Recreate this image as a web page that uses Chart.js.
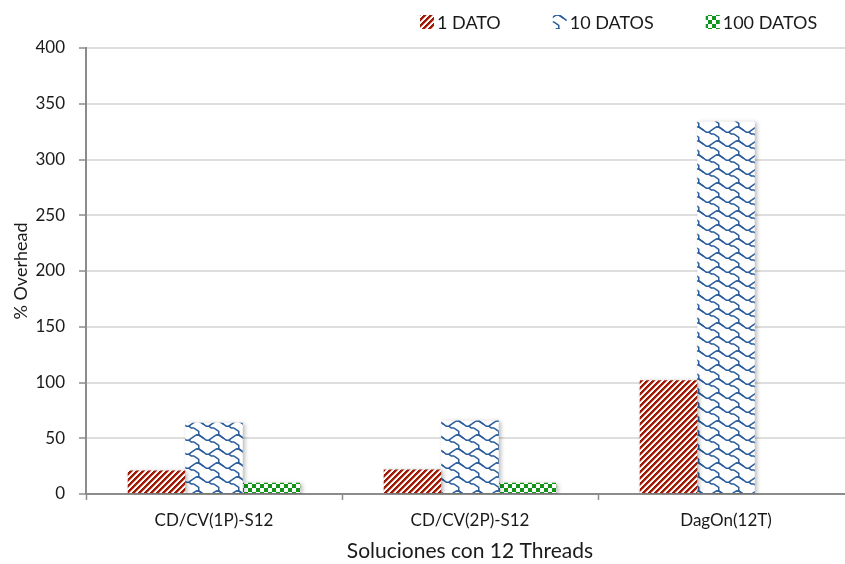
<!DOCTYPE html>
<html>
<head>
<meta charset="utf-8">
<script src="https://cdn.jsdelivr.net/npm/chart.js@4.4.1/dist/chart.umd.min.js"></script>
<style>
  html, body { margin: 0; padding: 0; background: #fff; overflow: hidden; }
  #wrap { position: relative; width: 860px; height: 564px; }
</style>
</head>
<body>
<div id="wrap"><canvas id="chart"></canvas></div>
<script>
// Overhead (%) per solution and data volume
const categories = ['CD/CV(1P)-S12', 'CD/CV(2P)-S12', 'DagOn(12T)'];
const seriesNames = ['1 DATO', '10 DATOS', '100 DATOS'];
const oneDato = [21, 22, 102];
const tenDatos = [64, 66, 334];
const hundredDatos = [10, 10, null];
const yTickValues = [0, 50, 100, 150, 200, 250, 300, 350, 400];

const FONT = 'Lato, "Open Sans", sans-serif';
const TEXT = '#1a1a1a';
const AXIS = '#8c8c8c';

// Hatch fills built as small repeating tiles
function tile(w, h, paint) {
  const c = document.createElement('canvas');
  c.width = w; c.height = h;
  const g = c.getContext('2d');
  g.fillStyle = '#ffffff';
  g.fillRect(0, 0, w, h);
  paint(g, w, h);
  return g.createPattern(c, 'repeat');
}

// red upward diagonal stripes
const stripePattern = tile(6, 6, g => {
  for (let y = 0; y < 6; y++) {
    for (let x = 0; x < 6; x++) {
      const k = (x + y) % 6;
      if (k < 3) { g.fillStyle = '#a01c08'; g.fillRect(x, y, 1, 1); }
      else if (k === 3) { g.fillStyle = '#dca99c'; g.fillRect(x, y, 1, 1); }
    }
  }
});

// blue shingle: scalloped rows joined by diagonal strokes
const scallop = [[-2, 0], [-1, 0], [0, 1], [1, 2], [2, 3], [3, 3], [4, 2], [5, 1], [6, 0], [7, 0], [8, 1], [9, 2]];
const joint = [[3, 3], [4, 4], [5, 4], [6, 5], [7, 6], [7, 7], [7, 8]];
const shinglePattern = tile(20, 14, (g, w, h) => {
  const sx = w / 8, sy = h / 8;
  g.strokeStyle = '#2b5d9b';
  g.lineWidth = 1.5;
  g.lineJoin = 'miter';
  for (const dx of [-w, 0, w]) {
    for (const dy of [-h, 0, h]) {
      for (const pts of [scallop, joint]) {
        g.beginPath();
        pts.forEach(([i, j], n) => {
          const x = i * sx + sx / 2 + dx, y = j * sy + sy / 2 + dy;
          if (n === 0) g.moveTo(x, y); else g.lineTo(x, y);
        });
        g.stroke();
      }
    }
  }
});

// green checkerboard
const checkerPattern = tile(8, 8, g => {
  g.fillStyle = '#12961a';
  g.fillRect(0, 0, 4, 4);
  g.fillRect(4, 4, 4, 4);
});

const fills = [stripePattern, shinglePattern, checkerPattern];

// soft drop shadow behind the bars
const barShadow = {
  id: 'barShadow',
  beforeDatasetsDraw(chart) {
    const ctx = chart.ctx;
    ctx.save();
    ctx.shadowColor = 'rgba(0,0,0,0.28)';
    ctx.shadowBlur = 4;
    ctx.shadowOffsetX = 2;
    ctx.shadowOffsetY = 1;
  },
  afterDatasetsDraw(chart) { chart.ctx.restore(); }
};

// legend row at the top right
const topLegend = {
  id: 'topLegend',
  afterDraw(chart) {
    const ctx = chart.ctx;
    ctx.save();
    ctx.font = '18px ' + FONT;
    ctx.textBaseline = 'middle';
    ctx.textAlign = 'left';
    let x = 420;
    const y = 15, box = 14;
    chart.data.datasets.forEach(ds => {
      ctx.fillStyle = ds.backgroundColor;
      ctx.fillRect(x, y, box, box);
      ctx.fillStyle = TEXT;
      ctx.fillText(ds.label, x + box + 3, y + box / 2 + 1);
      x += box + 3 + ctx.measureText(ds.label).width + 52;
    });
    ctx.restore();
  }
};

const seriesValues = [oneDato, tenDatos, hundredDatos];

new Chart(document.getElementById('chart'), {
  type: 'bar',
  data: {
    labels: categories,
    datasets: seriesNames.map((name, i) => ({
      label: name,
      data: seriesValues[i],
      backgroundColor: fills[i],
      borderWidth: 0,
      categoryPercentage: 0.674,
      barPercentage: 1.0
    }))
  },
  options: {
    responsive: true,
    maintainAspectRatio: false,
    devicePixelRatio: 1,
    animation: false,
    layout: { padding: { top: 48, right: 6, left: 0, bottom: 0 } },
    plugins: {
      legend: { display: false },
      tooltip: { enabled: false }
    },
    scales: {
      x: {
        afterFit(scale) { scale.height = 70; },
        grid: {
          display: true,
          drawOnChartArea: false,
          drawTicks: true,
          tickLength: 6,
          tickColor: AXIS,
          tickWidth: 1.5
        },
        border: { display: true, color: AXIS, width: 2 },
        ticks: { color: TEXT, font: { family: FONT, size: 17 }, padding: 10 },
        title: {
          display: true,
          text: 'Soluciones con 12 Threads',
          color: TEXT,
          font: { family: FONT, size: 21 },
          padding: { top: 4, bottom: 0 }
        }
      },
      y: {
        min: 0,
        max: 400,
        afterFit(scale) { scale.width = 86; },
        afterBuildTicks(scale) { scale.ticks = yTickValues.map(v => ({ value: v })); },
        grid: {
          color: '#dedede',
          lineWidth: 2,
          drawTicks: true,
          tickLength: 7,
          tickColor: AXIS,
          tickWidth: 1.5
        },
        border: { display: true, color: AXIS, width: 2 },
        ticks: { color: TEXT, font: { family: FONT, size: 17 }, padding: 14 },
        title: {
          display: true,
          text: '% Overhead',
          color: TEXT,
          font: { family: FONT, size: 18 },
          padding: { top: 10, bottom: 0 }
        }
      }
    }
  },
  plugins: [barShadow, topLegend]
});
</script>
</body>
</html>
